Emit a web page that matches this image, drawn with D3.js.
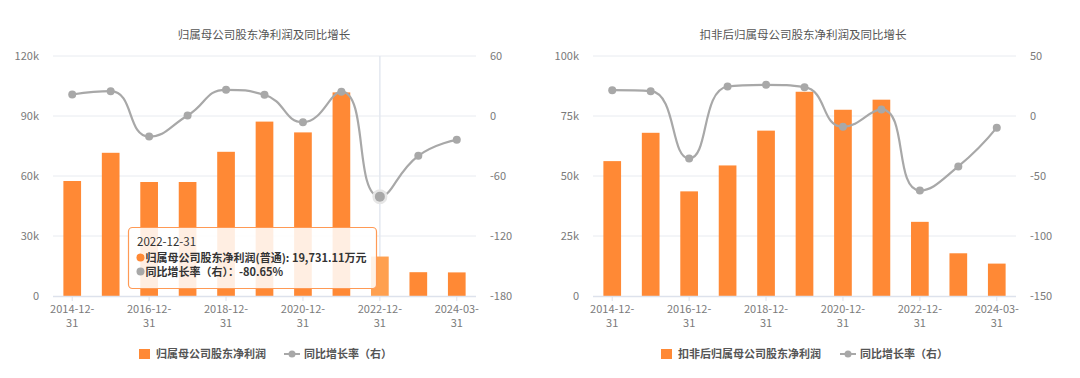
<!DOCTYPE html>
<html><head><meta charset="utf-8">
<script src="https://cdn.jsdelivr.net/npm/d3@7"></script>
<style>
html,body{margin:0;padding:0;background:#fff;}
svg{display:block;font-family:"Noto Sans CJK SC","Noto Sans",sans-serif;}
</style></head>
<body>
<svg id="chart" width="1080" height="378"></svg>
<script>
// ---- data ----
const categories = ["2014-12-31","2015-12-31","2016-12-31","2017-12-31","2018-12-31","2019-12-31","2020-12-31","2021-12-31","2022-12-31","2023-12-31","2024-03-31"];
const netProfit = [57500, 71600, 57000, 57000, 72100, 87200, 81800, 101800, 19731.11, 11900, 11800];
const netProfitGrowth = [21.5, 24.8, -20.6, 0.5, 26.2, 21.2, -6.2, 24.3, -80.65, -39.8, -23.8];
const deductedProfit = [56200, 68000, 43600, 54400, 68900, 85100, 77600, 81800, 30900, 17800, 13500];
const deductedGrowth = [21.5, 20.7, -35.5, 24.6, 26.0, 24.0, -9.0, 5.5, -62.1, -42.0, -9.7];
const leftTicksA = [0, 30000, 60000, 90000, 120000];
const rightTicksA = [-180, -120, -60, 0, 60];
const leftTicksB = [0, 25000, 50000, 75000, 100000];
const rightTicksB = [-150, -100, -50, 0, 50];
const titles = ["归属母公司股东净利润及同比增长", "扣非后归属母公司股东净利润及同比增长"];
const barNames = ["归属母公司股东净利润", "扣非后归属母公司股东净利润"];
const lineName = "同比增长率（右）";
const tooltipDate = "2022-12-31";
const tooltipBar = "归属母公司股东净利润(普通): 19,731.11万元";
const tooltipLine = "同比增长率（右）：-80.65%";

const BAR = "#FF8935", BAR_HI = "#FFA04F", LINE = "#A8A8A8", GRID = "#E8EBF0", AXIS = "#DDE2EC", TXT = "#7A7A7A";
const svg = d3.select("#chart");

// ECharts-like smooth line with smooth constraint
function smoothPath(pts, smooth) {
  const p = d3.path();
  const n = pts.length;
  p.moveTo(pts[0][0], pts[0][1]);
  let cp0x = pts[0][0], cp0y = pts[0][1];
  for (let i = 1; i < n; i++) {
    const [x, y] = pts[i];
    let cp1x, cp1y, nx0, ny0;
    if (i < n - 1) {
      const [px, py] = pts[i - 1], [nx, ny] = pts[i + 1];
      let vx = nx - px, vy = ny - py;
      const l0 = Math.hypot(x - px, y - py), l1 = Math.hypot(nx - x, ny - y);
      const r = l1 / (l0 + l1);
      nx0 = x + vx * smooth * r; ny0 = y + vy * smooth * r;
      nx0 = Math.min(nx0, Math.max(nx, x)); ny0 = Math.min(ny0, Math.max(ny, y));
      nx0 = Math.max(nx0, Math.min(nx, x)); ny0 = Math.max(ny0, Math.min(ny, y));
      vx = nx0 - x; vy = ny0 - y;
      cp1x = x - vx * l0 / l1; cp1y = y - vy * l0 / l1;
      cp1x = Math.min(cp1x, Math.max(px, x)); cp1y = Math.min(cp1y, Math.max(py, y));
      cp1x = Math.max(cp1x, Math.min(px, x)); cp1y = Math.max(cp1y, Math.min(py, y));
      vx = x - cp1x; vy = y - cp1y;
      nx0 = x + vx * l1 / l0; ny0 = y + vy * l1 / l0;
    } else { cp1x = x; cp1y = y; nx0 = x; ny0 = y; }
    p.bezierCurveTo(cp0x, cp0y, cp1x, cp1y, x, y);
    cp0x = nx0; cp0y = ny0;
  }
  return p.toString();
}

function drawChart(ox, cfg) {
  const g = svg.append("g").attr("transform", `translate(${ox},0)`);
  const L = 53, R = 476, T = 56, B = 296;
  const x = d3.scaleBand().domain(categories).range([L, R]);
  const yL = d3.scaleLinear().domain(d3.extent(cfg.leftTicks)).range([B, T]);
  const yR = d3.scaleLinear().domain(d3.extent(cfg.rightTicks)).range([B, T]);

  g.append("text").attr("x", cfg.titleX).attr("y", 39).attr("text-anchor", "middle")
    .attr("font-size", 11.5).attr("fill", "#555").text(cfg.title);

  g.append("g").selectAll("line").data(cfg.leftTicks.slice(1)).join("line")
    .attr("x1", L).attr("x2", R).attr("y1", d => yL(d)).attr("y2", d => yL(d))
    .attr("stroke", GRID).attr("stroke-width", 1);

  const fmt = d => d === 0 ? "0" : (d / 1000) + "k";
  g.append("g").selectAll("text").data(cfg.leftTicks).join("text")
    .attr("x", L - 14).attr("y", d => yL(d)).attr("dy", "0.35em").attr("text-anchor", "end")
    .attr("font-size", 11).attr("fill", TXT).text(fmt);
  g.append("g").selectAll("text").data(cfg.rightTicks).join("text")
    .attr("x", R + 14).attr("y", d => yR(d)).attr("dy", "0.35em").attr("text-anchor", "start")
    .attr("font-size", 11).attr("fill", TXT).text(d => d);

  if (cfg.hover != null) {
    const cx = x(categories[cfg.hover]) + x.bandwidth() / 2;
    g.append("line").attr("x1", cx).attr("x2", cx).attr("y1", T).attr("y2", B)
      .attr("stroke", "#E3E8F0").attr("stroke-width", 1.5);
  }

  const bw = x.bandwidth() * 0.46;
  g.append("g").selectAll("rect").data(cfg.bars).join("rect")
    .attr("x", (d, i) => x(categories[i]) + (x.bandwidth() - bw) / 2)
    .attr("width", bw)
    .attr("y", d => yL(d)).attr("height", d => B - yL(d))
    .attr("fill", (d, i) => i === cfg.hover ? BAR_HI : BAR);

  g.append("line").attr("x1", L).attr("x2", R).attr("y1", B + 0.5).attr("y2", B + 0.5)
    .attr("stroke", AXIS).attr("stroke-width", 1.5);
  const shown = categories.filter((c, i) => i % 2 === 0);
  g.append("g").selectAll("line").data(shown).join("line")
    .attr("x1", d => x(d) + x.bandwidth() / 2).attr("x2", d => x(d) + x.bandwidth() / 2)
    .attr("y1", B).attr("y2", B + 5).attr("stroke", AXIS);
  const lab = g.append("g").selectAll("text").data(shown).join("text")
    .attr("text-anchor", "middle").attr("font-size", 11).attr("fill", TXT)
    .attr("transform", d => `translate(${x(d) + x.bandwidth() / 2},0)`);
  lab.append("tspan").attr("x", 0).attr("y", B + 17).text(d => d.slice(0, 8));
  lab.append("tspan").attr("x", 0).attr("y", B + 31).text(d => d.slice(8));

  const pts = cfg.line.map((v, i) => [x(categories[i]) + x.bandwidth() / 2, yR(v)]);
  g.append("path").attr("d", smoothPath(pts, 0.5)).attr("fill", "none")
    .attr("stroke", LINE).attr("stroke-width", 2.2);
  if (cfg.hover != null) {
    const hp = pts[cfg.hover];
    g.append("circle").attr("cx", hp[0]).attr("cy", hp[1]).attr("r", 7.5).attr("fill", "#E6E6E6");
  }
  g.append("g").selectAll("circle").data(pts).join("circle")
    .attr("cx", d => d[0]).attr("cy", d => d[1]).attr("r", (d, i) => i === cfg.hover ? 5 : 4)
    .attr("fill", LINE);

  const lg = g.append("g");
  lg.append("rect").attr("x", cfg.leg.sq).attr("y", 349).attr("width", 11).attr("height", 10).attr("fill", BAR);
  lg.append("text").attr("x", cfg.leg.sq + 17).attr("y", 354).attr("dy", "0.35em").attr("font-size", 11)
    .attr("font-weight", 600).attr("fill", "#555").text(cfg.barName);
  lg.append("line").attr("x1", cfg.leg.ln).attr("x2", cfg.leg.ln + 16).attr("y1", 354).attr("y2", 354)
    .attr("stroke", LINE).attr("stroke-width", 2);
  lg.append("circle").attr("cx", cfg.leg.ln + 8).attr("cy", 354).attr("r", 3.5).attr("fill", LINE);
  lg.append("text").attr("x", cfg.leg.ln + 20).attr("y", 354).attr("dy", "0.35em").attr("font-size", 11)
    .attr("font-weight", 600).attr("fill", "#555").text(lineName);

  if (cfg.tooltip) {
    const tt = g.append("g");
    tt.append("rect").attr("x", 128.5).attr("y", 227.5).attr("width", 248).attr("height", 61).attr("rx", 4)
      .attr("fill", "rgba(255,255,255,0.86)").attr("stroke", "#FF9A55").attr("stroke-width", 1.2);
    tt.append("text").attr("x", 137).attr("y", 246).attr("font-size", 11.5).attr("fill", "#333").text(tooltipDate);
    tt.append("circle").attr("cx", 140.5).attr("cy", 257.5).attr("r", 4).attr("fill", BAR);
    tt.append("text").attr("x", 145.5).attr("y", 262).attr("font-size", 11).attr("font-weight", 600).attr("fill", "#333").text(tooltipBar);
    tt.append("circle").attr("cx", 140.5).attr("cy", 271.5).attr("r", 4).attr("fill", LINE);
    tt.append("text").attr("x", 145.5).attr("y", 276).attr("font-size", 11).attr("font-weight", 600).attr("fill", "#333").text(tooltipLine);
  }
}

drawChart(0, { title: titles[0], titleX: 264, leftTicks: leftTicksA, rightTicks: rightTicksA,
  bars: netProfit, line: netProfitGrowth, hover: 8, barName: barNames[0], leg: { sq: 139, ln: 284 }, tooltip: true });
drawChart(540, { title: titles[1], titleX: 263, leftTicks: leftTicksB, rightTicks: rightTicksB,
  bars: deductedProfit, line: deductedGrowth, hover: null, barName: barNames[1], leg: { sq: 121, ln: 300 }, tooltip: false });
</script>
</body></html>
